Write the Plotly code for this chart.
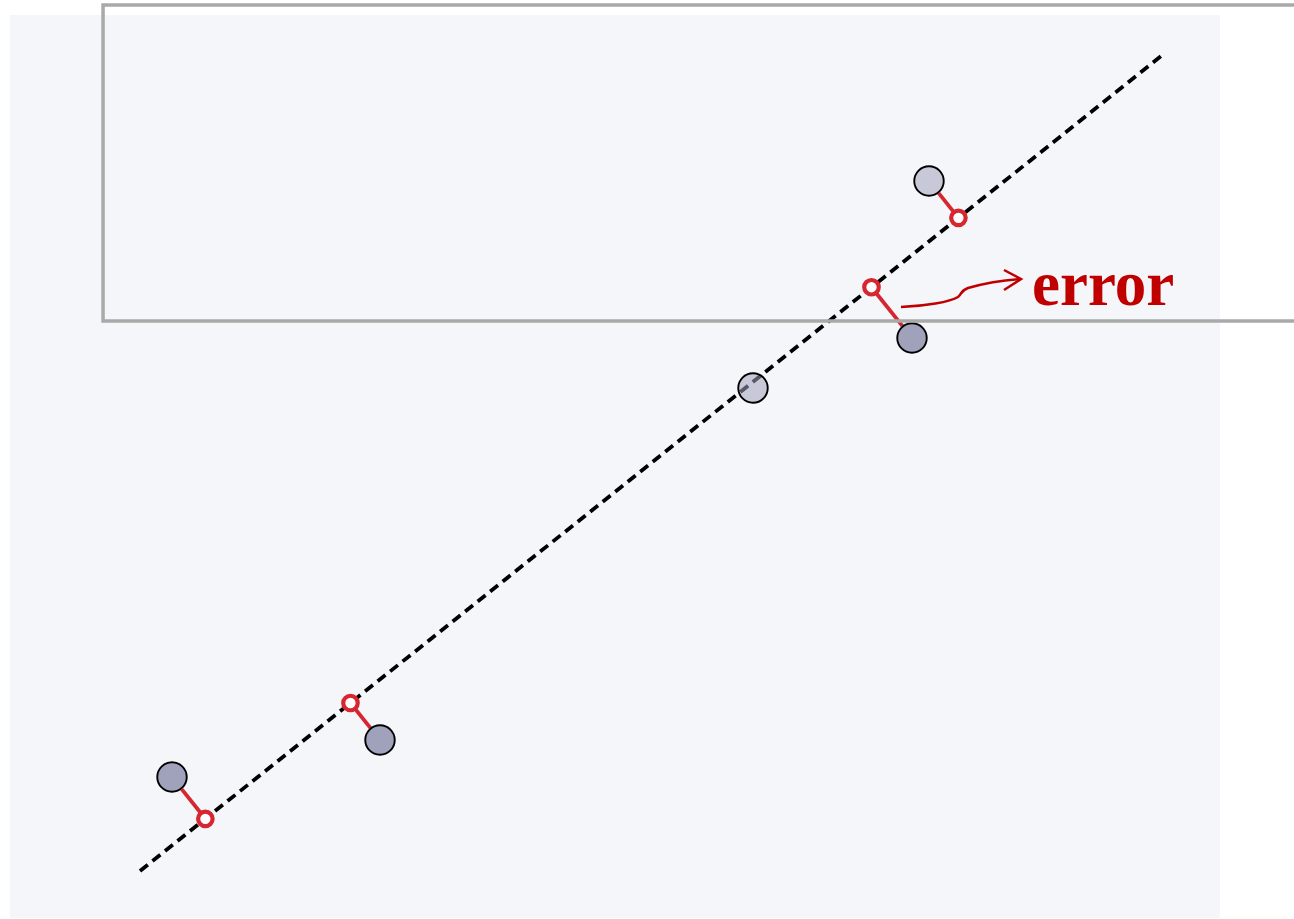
import numpy as np
import plotly.graph_objects as go

# Observed points (axis units: 1 unit = 100 px)
point_x = [1.62, 3.70, 7.43, 9.02, 9.19]
point_y = [1.41, 1.78, 5.30, 5.80, 7.37]
point_alpha = [1.0, 1.0, 0.55, 1.0, 0.55]

# Fitted line y = slope * x + intercept, drawn across this x extent
fit_slope = 0.798
fit_intercept = -0.567
fit_x_extent = [1.30, 11.53]

# Curved arrow leading to the label
arrow_label = "error"
arrow_curve = [(8.91, 6.11), (9.15, 6.12), (9.40, 6.16), (9.48, 6.21),
               (9.52, 6.24), (9.50, 6.27), (9.58, 6.30),
               (9.75, 6.35), (9.90, 6.38), (10.11, 6.39)]
arrow_head = [(9.94, 6.48), (10.11, 6.39), (9.94, 6.28)]
label_pos = (10.20, 6.34)

X_RANGE = [0, 12.10]
Y_RANGE = [0, 9.03]

RED = "#d6262f"
DARK_RED = "#c00000"
POINT_SIZE = 31                      # marker diameter, px
POINT_RADIUS = POINT_SIZE / 2 / 100  # in axis units

px_ = np.array(point_x)
py_ = np.array(point_y)

# Orthogonal projection of each point onto the fitted line
d = np.array([1.0, fit_slope]) / np.hypot(1.0, fit_slope)
rel_x, rel_y = px_, py_ - fit_intercept
t = rel_x * d[0] + rel_y * d[1]
proj_x = t * d[0]
proj_y = fit_intercept + t * d[1]
resid = np.hypot(px_ - proj_x, py_ - proj_y)
has_err = resid > 0.08

fig = go.Figure()

# Fitted line
line_x = np.array(fit_x_extent)
fig.add_trace(go.Scatter(
    x=line_x, y=fit_slope * line_x + fit_intercept, mode="lines",
    line=dict(color="black", width=3.8, dash="10px,6px"),
    hoverinfo="skip", showlegend=False))

# Residual segments, starting at the edge of each point's circle
seg_x, seg_y = [], []
for i in np.where(has_err)[0]:
    ux = (proj_x[i] - px_[i]) / resid[i]
    uy = (proj_y[i] - py_[i]) / resid[i]
    seg_x += [px_[i] + ux * POINT_RADIUS, proj_x[i], None]
    seg_y += [py_[i] + uy * POINT_RADIUS, proj_y[i], None]
fig.add_trace(go.Scatter(
    x=seg_x, y=seg_y, mode="lines",
    line=dict(color=RED, width=3.8),
    hoverinfo="skip", showlegend=False))

# Data points
fills = [f"rgba(160,162,188,{a})" for a in point_alpha]
fig.add_trace(go.Scatter(
    x=px_, y=py_, mode="markers",
    marker=dict(size=POINT_SIZE - 1.5, color=fills,
                line=dict(color="black", width=1.9)),
    showlegend=False))

# Projected points on the line
fig.add_trace(go.Scatter(
    x=proj_x[has_err], y=proj_y[has_err], mode="markers",
    marker=dict(size=14.5, color="white", line=dict(color=RED, width=4.2)),
    showlegend=False))

# Arrow to label
p = arrow_curve
path = f"M {p[0][0]},{p[0][1]}"
for k in range(1, len(p), 3):
    a, b, c = p[k], p[k + 1], p[k + 2]
    path += f" C {a[0]},{a[1]} {b[0]},{b[1]} {c[0]},{c[1]}"
head = arrow_head
head_path = f"M {head[0][0]},{head[0][1]} L {head[1][0]},{head[1][1]} L {head[2][0]},{head[2][1]}"
for pth in (path, head_path):
    fig.add_shape(type="path", path=pth, xref="x", yref="y",
                  line=dict(color=DARK_RED, width=2.5))

fig.add_annotation(
    x=label_pos[0], y=label_pos[1], xref="x", yref="y",
    text=arrow_label, showarrow=False, xanchor="left", yanchor="middle",
    font=dict(family="Liberation Serif", size=63, color=DARK_RED, weight="bold"))

# Highlight frame (extends past the plotting panel)
fig.add_shape(type="rect", xref="paper", yref="paper",
              x0=0.0769, x1=1.08, y0=0.6611, y1=1.0111,
              line=dict(color="#a9a9a9", width=3.5), layer="above")

fig.update_xaxes(range=X_RANGE, visible=False, fixedrange=True)
fig.update_yaxes(range=Y_RANGE, visible=False, fixedrange=True)
fig.update_layout(
    width=1294, height=919,
    margin=dict(l=10, r=74, t=15, b=1),
    paper_bgcolor="white", plot_bgcolor="#f5f6fa",
)

fig.write_html("out.html")
